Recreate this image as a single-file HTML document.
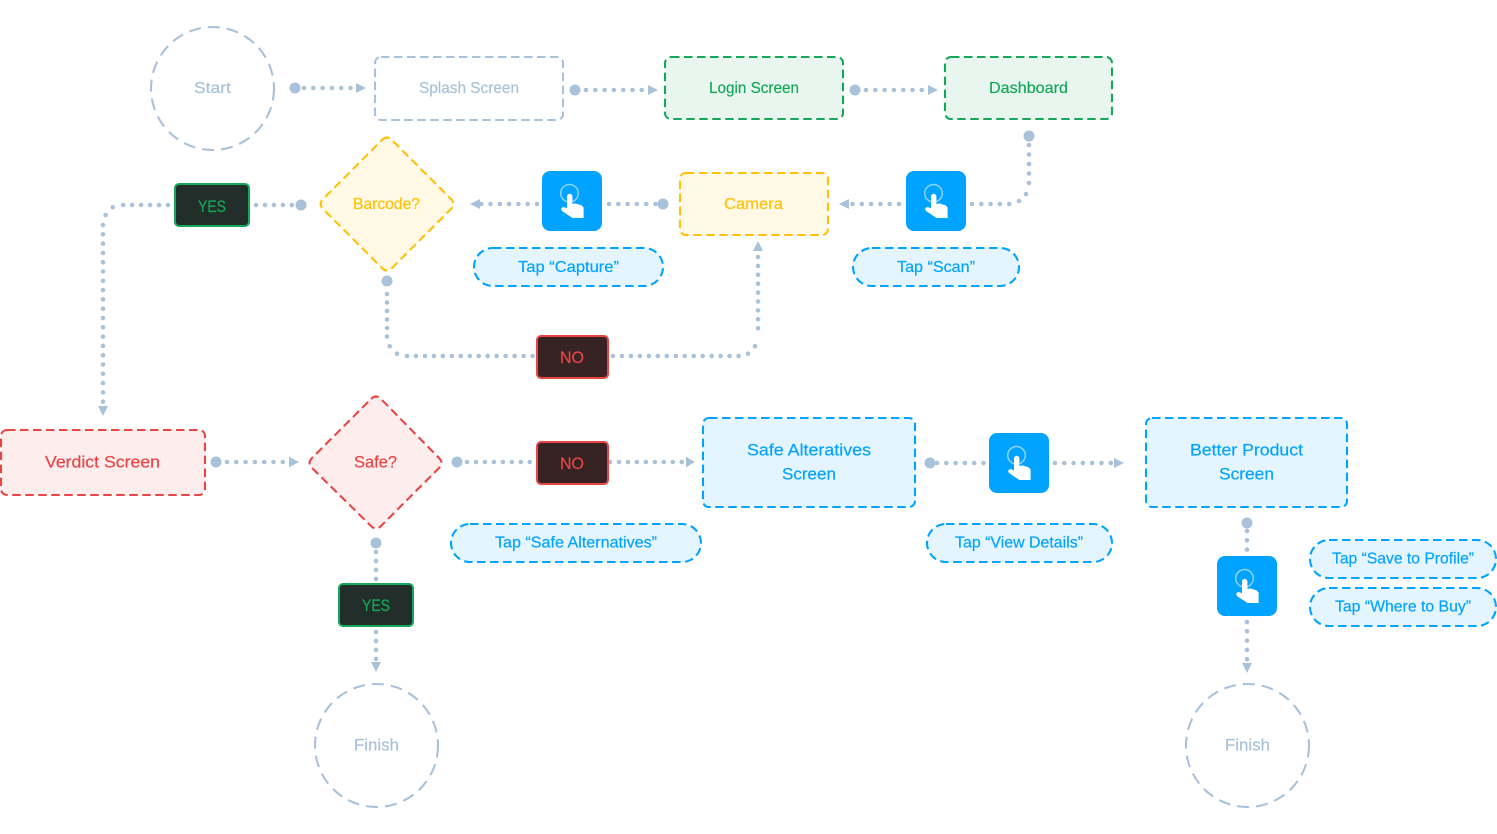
<!DOCTYPE html>
<html><head><meta charset="utf-8"><style>
html,body{margin:0;padding:0;background:#fff;width:1497px;height:834px;overflow:hidden}
svg{display:block}
text{font-family:"Liberation Sans",sans-serif;font-size:16px;text-anchor:middle;stroke-width:.2}
.c{fill:none;stroke:#a9c1d9;stroke-width:4.6;stroke-linecap:round;stroke-dasharray:0 9.3}
.s9{stroke-dasharray:0 8.97}
.n{stroke-width:2.1;stroke-dasharray:8.500 4.500}
.o{stroke-dasharray:12 7}
.g{fill:#e8f6ef;stroke:#16a85a}.y{fill:#fff9e6;stroke:#ffc107}.r{fill:#fdeded;stroke:#e84545}.b{fill:#e5f5ff;stroke:#00a3ff}.w{fill:#fff;stroke:#a9c1d9}
.tg{fill:#16a85a;stroke:#16a85a}.ty{fill:#ffc107;stroke:#ffc107}.tr{fill:#e84545;stroke:#e84545}.tb{fill:#00a3ff;stroke:#00a3ff}.tw{fill:#a9c1d9;stroke:#a9c1d9}
.l{font-size:17px}
.d{fill:#a9c1d9}
</style></head><body>
<svg width="1497" height="834" viewBox="0 0 1497 834" xmlns="http://www.w3.org/2000/svg">
<defs>
<g id="tap">
<rect width="60" height="60" rx="8" fill="#00a3ff"/>
<circle cx="27.500" cy="22.300" r="8.800" fill="none" stroke="#8fd3ff" stroke-width="1.500"/>
<path d="M25 25.500a2.700 2.700 0 0 1 5.400 0v7.500l3-.6 3 1 3 .8 2.200 2.300v10.500H30.500l-10.500-7-1-2 1.500-1.800q2.500-.5 4.500 1.300z" fill="#fff"/>
</g>
</defs>

<!-- connectors -->
<g class="c">
<path d="M304 88H352"/><path d="M586 90H642.500"/><path d="M866 90H922.500"/>
<path d="M972 204H1010"/><path d="M1029 145V184" style="stroke-dasharray:0 9.500"/>
<path d="M899 204H850"/><path d="M609 204H656"/><path d="M537 204H481"/>
<path class="s9" d="M256 205H293"/>
<path class="s9" d="M168 205H122"/>
<path d="M103 225V403"/>
<path d="M387 294V337" style="stroke-dasharray:0 8.500"/>
<path class="s9" d="M407 356H533"/>
<path class="s9" d="M613 356H739"/>
<path d="M758 257V337" style="stroke-dasharray:0 8.900"/>
<path d="M227 462H284"/><path class="s9" d="M467 462H531"/><path class="s9" d="M610 462H683"/>
<path d="M937 463H984"/><path d="M1055 463H1111"/>
<path d="M1247 531V550"/><path d="M1247 622V660"/>
<path class="s9" d="M376 552V579"/><path class="s9" d="M376 632V659"/>
</g>
<g class="d">
<circle cx="1019" cy="201" r="2.300"/><circle cx="1026" cy="194" r="2.300"/>
<circle cx="112.700" cy="207.300" r="2.300"/><circle cx="105.700" cy="215" r="2.300"/>
<circle cx="389.700" cy="346.300" r="2.300"/><circle cx="397" cy="353.700" r="2.300"/>
<circle cx="755" cy="346.300" r="2.300"/><circle cx="748" cy="353.700" r="2.300"/>
<circle cx="295" cy="88" r="5.500"/><circle cx="575" cy="90" r="5.500"/><circle cx="855" cy="90" r="5.500"/>
<circle cx="1029" cy="136" r="5.500"/><circle cx="663" cy="204" r="5.500"/><circle cx="301" cy="205" r="5.500"/>
<circle cx="387" cy="281" r="5.500"/><circle cx="216" cy="462" r="5.500"/><circle cx="457" cy="462" r="5.500"/>
<circle cx="930" cy="463" r="5.500"/><circle cx="1247" cy="523" r="5.500"/><circle cx="376" cy="543" r="5.500"/>
<path d="M356 83 366 88 356 93z"/><path d="M648 85 658 90 648 95z"/><path d="M928 85 938 90 928 95z"/>
<path d="M849 199 839 204 849 209z"/><path d="M480 199 470 204 480 209z"/>
<path d="M98 406 103 416 108 406z"/><path d="M753 251 758 241 763 251z"/>
<path d="M289 456.700 299 462 289 467.300z"/><path d="M686 456.700 695 462 686 467.300z"/><path d="M1114 458 1124 463 1114 468z"/>
<path d="M1242 663 1247 673 1252 663z"/><path d="M371 662 376 672 381 662z"/>
</g>

<!-- nodes -->
<circle class="w n o" cx="212.500" cy="88.500" r="61.500"/>
<rect class="w n" x="375" y="57" width="188" height="63" rx="6"/>
<rect class="g n" x="665" y="57" width="178" height="62" rx="6"/>
<rect class="g n" x="945" y="57" width="167" height="62" rx="6"/>
<path class="y n" stroke-linejoin="round" d="M382 140Q387 135 392 140L451 199Q456 204 451 209L392 268Q387 273 382 268L323 209Q318 204 323 199Z"/>
<rect class="y n" x="680" y="173" width="148" height="62" rx="6"/>
<rect class="b n" x="474" y="248" width="189" height="38" rx="19"/>
<rect class="b n" x="853" y="248" width="166" height="38" rx="19"/>
<rect x="175" y="184" width="74" height="42" rx="4" fill="#222e2a" stroke="#16a85a" stroke-width="2"/>
<rect x="537" y="336" width="71" height="42" rx="4" fill="#372324" stroke="#e84545" stroke-width="2"/>
<rect x="537" y="442" width="71" height="42" rx="4" fill="#372324" stroke="#e84545" stroke-width="2"/>
<rect x="339" y="584" width="74" height="42" rx="4" fill="#222e2a" stroke="#16a85a" stroke-width="2"/>
<rect class="r n" x="1" y="430" width="204" height="65" rx="6"/>
<path class="r n" stroke-linejoin="round" d="M371 399Q376 394 381 399L439 458Q444 463 439 468L381 526Q376 531 371 526L312 468Q307 463 312 458Z"/>
<rect class="b n" x="703" y="418" width="212" height="89" rx="6"/>
<rect class="b n" x="1146" y="418" width="201" height="89" rx="6"/>
<rect class="b n" x="451" y="524" width="250" height="38" rx="19"/>
<rect class="b n" x="927" y="524" width="185" height="38" rx="19"/>
<rect class="b n" x="1310" y="540" width="186" height="38" rx="19"/>
<rect class="b n" x="1310" y="588" width="186" height="38" rx="19"/>
<circle class="w n o" cx="376.500" cy="745.500" r="61.500"/>
<circle class="w n o" cx="1247.500" cy="745.500" r="61.500"/>

<use href="#tap" x="542" y="171"/><use href="#tap" x="906" y="171"/><use href="#tap" x="989" y="433"/><use href="#tap" x="1217" y="556"/>

<!-- labels -->
<text class="tw" x="212.500" y="93" textLength="37" lengthAdjust="spacingAndGlyphs">Start</text>
<text class="tw" x="469" y="93" textLength="100" lengthAdjust="spacingAndGlyphs">Splash Screen</text>
<text class="tg" x="754" y="93" textLength="90" lengthAdjust="spacingAndGlyphs">Login Screen</text>
<text class="tg" x="1028.500" y="93" textLength="79" lengthAdjust="spacingAndGlyphs">Dashboard</text>
<text class="ty" x="386.500" y="209" textLength="67" lengthAdjust="spacingAndGlyphs">Barcode?</text>
<text class="ty" x="753.500" y="209" textLength="59" lengthAdjust="spacingAndGlyphs">Camera</text>
<text class="tb" x="568.500" y="272" textLength="101" lengthAdjust="spacingAndGlyphs">Tap “Capture”</text>
<text class="tb" x="936" y="272" textLength="78" lengthAdjust="spacingAndGlyphs">Tap “Scan”</text>
<text class="tg l" x="212" y="212" textLength="28" lengthAdjust="spacingAndGlyphs">YES</text>
<text class="tr l" x="572" y="363" textLength="24" lengthAdjust="spacingAndGlyphs">NO</text>
<text class="tr l" x="572" y="469" textLength="24" lengthAdjust="spacingAndGlyphs">NO</text>
<text class="tg l" x="376" y="611" textLength="28" lengthAdjust="spacingAndGlyphs">YES</text>
<text class="tr l" x="102.500" y="467.500" textLength="115" lengthAdjust="spacingAndGlyphs">Verdict Screen</text>
<text class="tr l" x="375.500" y="467.500" textLength="43" lengthAdjust="spacingAndGlyphs">Safe?</text>
<text class="tb l" x="809" y="455.500" textLength="124" lengthAdjust="spacingAndGlyphs">Safe Alteratives</text>
<text class="tb l" x="809" y="479.500" textLength="54" lengthAdjust="spacingAndGlyphs">Screen</text>
<text class="tb l" x="1246.500" y="455.500" textLength="113" lengthAdjust="spacingAndGlyphs">Better Product</text>
<text class="tb l" x="1246.500" y="479.500" textLength="55" lengthAdjust="spacingAndGlyphs">Screen</text>
<text class="tb" x="576" y="547.500" textLength="162" lengthAdjust="spacingAndGlyphs">Tap “Safe Alternatives”</text>
<text class="tb" x="1019" y="547.500" textLength="128" lengthAdjust="spacingAndGlyphs">Tap “View Details”</text>
<text class="tb" x="1403" y="563.500" textLength="142" lengthAdjust="spacingAndGlyphs">Tap “Save to Profile”</text>
<text class="tb" x="1403" y="611.500" textLength="136" lengthAdjust="spacingAndGlyphs">Tap “Where to Buy”</text>
<text class="tw l" x="376.500" y="750.500" textLength="45" lengthAdjust="spacingAndGlyphs">Finish</text>
<text class="tw l" x="1247.500" y="750.500" textLength="45" lengthAdjust="spacingAndGlyphs">Finish</text>
</svg>
</body></html>
